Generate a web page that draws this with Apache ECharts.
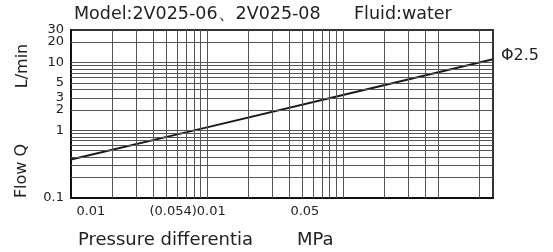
<!DOCTYPE html>
<html>
<head>
<meta charset="utf-8">
<script src="https://cdn.jsdelivr.net/npm/echarts@6/dist/echarts.min.js"></script>
<style>
  html, body { margin: 0; padding: 0; background: #fff; }
  #chartFlow { width: 553px; height: 252px; }
</style>
</head>
<body>
<div id="chartFlow"></div>
<script>
// curve Φ2.5 : pressure differential (MPa) -> flow (L/min)
const pressure = [0.001, 0.01, 0.1, 1.27]
const flow = [0.37, 1.1, 3.3, 11.1]

// tick labels (placed where the picture has them)
const xTickValues = [0.0014, 0.0072, 0.0525]
const xTickLabels = ['0.01', '(0.054)0.01', '0.05']
const yTickValues = [0.1, 1, 2, 3, 5, 10, 20, 30]
const yTickLabels = ['0.1', '1', '2', '3', '5', '10', '20', '30']

// log paper grid lines
const xGridValues = [0.002, 0.003, 0.004, 0.005, 0.006, 0.007, 0.008, 0.009, 0.01,
  0.02, 0.03, 0.04, 0.05, 0.06, 0.07, 0.08, 0.09, 0.1, 0.2, 0.3, 0.4, 0.5, 1]
const yGridValues = [0.2, 0.3, 0.4, 0.5, 0.6, 0.7, 0.8, 0.9, 1,
  2, 3, 4, 5, 6, 7, 8, 9, 10, 20]

const pickLabel = (vals, labels, v) => {
  for (let i = 0; i < vals.length; i++) {
    if (Math.abs(v - vals[i]) / vals[i] < 1e-3) return labels[i]
  }
  return ''
}

const font = 'DejaVu Sans'

// "30" and "20" sit almost on top of each other, so "20" goes on a twin axis
// (otherwise echarts drops one of them)
const yLabelsMain = yTickValues.filter(v => v !== 20)
const yLabelsTwin = yTickValues.filter(v => v === 20)

const logY = (values, showLine) => ({
  type: 'log',
  logBase: 10,
  min: 0.1,
  max: 30.05,
  position: 'left',
  axisLine: { show: showLine, lineStyle: { color: '#111', width: 2 } },
  axisTick: { show: false },
  splitLine: { show: false },
  axisLabel: {
    customValues: values,
    margin: 7,
    color: '#222',
    fontFamily: font,
    fontSize: 13,
    hideOverlap: false,
    showMinLabel: true,
    showMaxLabel: true,
    formatter: (v) => pickLabel(yTickValues, yTickLabels, v)
  }
})

const chartDom = document.getElementById('chartFlow');
const myChart = echarts.init(chartDom);
let option = {}
option = {
  animation: false,
  grid: {
    left: 71,
    right: 60,
    top: 30,
    bottom: 54,
    show: true,
    borderColor: '#333',
    borderWidth: 2
  },
  xAxis: {
    type: 'log',
    logBase: 10,
    min: 0.001,
    max: 1.27,
    axisLine: { lineStyle: { color: '#111', width: 2 } },
    axisTick: { show: false },
    splitLine: { show: false },
    axisLabel: {
      customValues: xTickValues,
      margin: 7,
      color: '#222',
      fontFamily: font,
      fontSize: 13,
      hideOverlap: false,
      formatter: (v) => pickLabel(xTickValues, xTickLabels, v)
    }
  },
  yAxis: [logY(yLabelsMain, true), logY(yLabelsTwin, false)],
  graphic: [
    { type: 'text', x: 74, y: 14, style: { text: 'Model:2V025-06、2V025-08', font: '17.5px "DejaVu Sans"', fill: '#222', verticalAlign: 'middle' } },
    { type: 'text', x: 354, y: 14, style: { text: 'Fluid:water', font: '17.5px "DejaVu Sans"', fill: '#222', verticalAlign: 'middle' } },
    { type: 'text', x: 78, y: 240, style: { text: 'Pressure differentia', font: '18px "DejaVu Sans"', fill: '#222', verticalAlign: 'middle' } },
    { type: 'text', x: 297, y: 240, style: { text: 'MPa', font: '18px "DejaVu Sans"', fill: '#222', verticalAlign: 'middle' } },
    { type: 'text', x: 23, y: 66, rotation: Math.PI / 2, style: { text: 'L/min', font: '16px "DejaVu Sans"', fill: '#222', align: 'center', verticalAlign: 'middle' } },
    { type: 'text', x: 22, y: 171, rotation: Math.PI / 2, style: { text: 'Flow Q', font: '16px "DejaVu Sans"', fill: '#222', align: 'center', verticalAlign: 'middle' } }
  ],
  series: [
    {
      name: 'Φ2.5',
      type: 'line',
      data: pressure.map((p, i) => [p, flow[i]]),
      showSymbol: false,
      color: '#1a1a1a',
      lineStyle: { width: 2, color: '#1a1a1a' },
      z: 3,
      endLabel: {
        show: true,
        formatter: 'Φ2.5',
        distance: 8,
        offset: [0, -3],
        color: '#222',
        fontFamily: font,
        fontSize: 16
      },
      markLine: {
        silent: true,
        precision: 6,
        symbol: 'none',
        label: { show: false },
        lineStyle: { color: '#555', width: 1, type: 'solid' },
        emphasis: { disabled: true },
        data: xGridValues.map(v => ({ xAxis: v })).concat(yGridValues.map(v => ({ yAxis: v })))
      }
    }
  ]
};
option && myChart.setOption(option);
</script>
</body>
</html>
